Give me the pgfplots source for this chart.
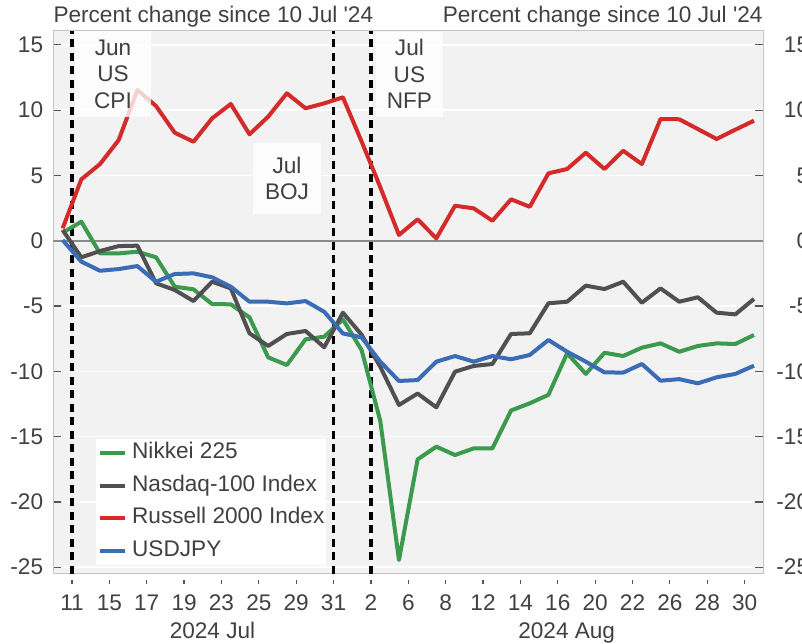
\documentclass[border=0pt]{standalone}
\usepackage{fontspec}
\setmainfont{Liberation Sans}
\usepackage{pgfplots}
\usepackage{pgfplotstable}
\pgfplotsset{compat=1.18}
\definecolor{cgreen}{HTML}{3B9A4E}
\definecolor{cgray}{HTML}{505050}
\definecolor{cred}{HTML}{D42A2A}
\definecolor{cblue}{HTML}{3A6DB5}
\definecolor{bgc}{HTML}{F2F2F2}
\definecolor{axc}{HTML}{C4C4C4}
\definecolor{zeroc}{HTML}{8A8A8A}
\definecolor{txtc}{HTML}{404040}
\definecolor{tickc}{HTML}{555555}

\pgfplotstableread{
x nikkei nasdaq russell usdjpy
0.5 0.61 0.82 0.95 0.05
1.5 1.46 -1.27 4.70 -1.60
2.5 -0.97 -0.79 5.87 -2.30
3.5 -0.97 -0.41 7.71 -2.17
4.5 -0.84 -0.38 11.54 -1.94
5.5 -1.27 -3.26 10.31 -3.14
6.5 -3.52 -3.77 8.27 -2.55
7.5 -3.72 -4.62 7.58 -2.50
8.5 -4.85 -3.14 9.37 -2.80
9.5 -4.87 -3.65 10.47 -3.52
10.5 -5.87 -7.09 8.15 -4.67
11.5 -8.93 -8.06 9.50 -4.67
12.5 -9.52 -7.14 11.29 -4.80
13.5 -7.55 -6.91 10.14 -4.62
14.5 -7.35 -8.16 10.52 -5.44
15.5 -6.02 -5.51 10.98 -7.10
16.5 -8.37 -7.20 7.60 -7.40
17.5 -13.80 -9.65 4.10 -9.26
18.5 -24.45 -12.58 0.44 -10.74
19.5 -16.74 -11.70 1.64 -10.67
20.5 -15.77 -12.76 0.18 -9.26
21.5 -16.41 -10.03 2.68 -8.83
22.5 -15.90 -9.59 2.48 -9.26
23.5 -15.90 -9.44 1.53 -8.83
24.5 -13.00 -7.14 3.17 -9.08
25.5 -12.45 -7.09 2.60 -8.75
26.5 -11.80 -4.79 5.16 -7.60
27.5 -8.62 -4.67 5.49 -8.50
28.5 -10.20 -3.44 6.74 -9.26
29.5 -8.58 -3.70 5.49 -10.08
30.5 -8.83 -3.14 6.89 -10.10
31.5 -8.19 -4.75 5.87 -9.44
32.5 -7.86 -3.65 9.32 -10.72
33.5 -8.50 -4.67 9.30 -10.60
34.5 -8.06 -4.33 8.55 -10.92
35.5 -7.86 -5.51 7.79 -10.46
36.5 -7.91 -5.64 8.50 -10.20
37.5 -7.22 -4.46 9.19 -9.57
}\data

\begin{document}
\begin{tikzpicture}[font=\fontsize{22.6}{26.5}\selectfont]
\pgfplotsset{
  common/.style={
    at={(53.3pt,70pt)}, anchor=south west,
    scale only axis, width=710pt, height=543pt,
    xmin=0, xmax=38, ymin=-25.52, ymax=16.06,
    ytick={-25,-20,...,15},
    yticklabels={-25,-20,-15,-10,-5,0,5,10,15},
    xtick={1,3,...,37},
  }
}
% second axis: outward x ticks and right labels
\begin{axis}[common,
  axis line style={draw=none},
  xticklabel=\empty,
  xtick pos=bottom,
  tick align=outside,
  major tick length=4pt,
  xtick style={draw=tickc, line width=1.2pt, yshift=-6pt},
  ytick style={draw=none},
  yticklabel pos=right,
  yticklabel style={anchor=east, inner sep=0pt, xshift=42pt, text=txtc},
]
\end{axis}
\begin{axis}[common,
  axis background/.style={fill=bgc},
  axis line style={draw=axc, line width=1pt},
  xticklabels={11,15,17,19,23,25,29,31,2,6,8,12,14,16,20,22,26,28,30},
  xtick style={draw=none},
  xticklabel style={inner sep=0pt, yshift=-21pt, text=txtc},
  ytick pos=both,
  yticklabel pos=left,
  tick align=inside,
  major tick length=8pt,
  ytick style={draw=tickc, line width=1.2pt},
  yticklabel style={inner sep=0pt, xshift=-10pt, text=txtc},
  ymajorgrids,
  grid style={white, line width=1.6pt},
  legend style={at={(rel axis cs:0.0601,0.2481)}, anchor=north west,
    draw=none, fill=white, inner xsep=2pt, inner ysep=3pt,
    row sep=11.7pt, text=txtc,
    nodes={inner sep=0pt, text height=16pt, text depth=5pt},
    /tikz/every odd column/.append style={column sep=5pt}},
  legend cell align=left,
  legend image code/.code={\draw[#1, line width=4pt] (0pt,0pt) -- (25pt,0pt);},
]
\addplot[white, line width=2pt, forget plot] coordinates {(17,-25.52) (17,16.06)};
\addplot[zeroc, line width=2pt, forget plot] coordinates {(0,0) (38,0)};
\addplot[black, line width=3.2pt, dash pattern=on 8pt off 5.5pt, forget plot] coordinates {(1,-25.52) (1,16.06)};
\addplot[black, line width=3.2pt, dash pattern=on 8pt off 5.5pt, forget plot] coordinates {(15,-25.52) (15,16.06)};
\addplot[black, line width=3.2pt, dash pattern=on 8pt off 5.5pt, forget plot] coordinates {(17,-25.52) (17,16.06)};

\addplot[cgreen, line width=4pt, line join=round] table[x=x, y=nikkei] {\data};
\addlegendentry{Nikkei 225}
\addplot[cgray, line width=4pt, line join=round] table[x=x, y=nasdaq] {\data};
\addlegendentry{Nasdaq-100 Index}
\addplot[cred, line width=4pt, line join=round] table[x=x, y=russell] {\data};
\addlegendentry{Russell 2000 Index}
\addplot[cblue, line width=4pt, line join=round] table[x=x, y=usdjpy] {\data};
\addlegendentry{USDJPY}

\node[fill=white, fill opacity=0.78, text opacity=1, text=txtc, align=center,
  minimum width=76pt, minimum height=86pt, inner sep=0pt] at (axis cs:3.195,12.76) {Jun\\US\\CPI};
\node[fill=white, fill opacity=0.78, text opacity=1, text=txtc, align=center,
  minimum width=68pt, minimum height=71pt, inner sep=0pt] at (axis cs:12.51,4.76) {Jul\\BOJ};
\node[fill=white, fill opacity=0.78, text opacity=1, text=txtc, align=center,
  minimum width=67pt, minimum height=85pt, inner sep=0pt] at (axis cs:19.06,12.76) {Jul\\US\\NFP};
\end{axis}
\node[anchor=base, text=txtc, inner sep=0pt] at (212.5pt,5pt) {2024 Jul};
\node[anchor=base, text=txtc, inner sep=0pt] at (566.7pt,5pt) {2024 Aug};
\node[anchor=base west, text=txtc, inner sep=0pt] at (53.3pt,621.3pt) {Percent change since 10 Jul \textquotesingle 24};
\node[anchor=base east, text=txtc, inner sep=0pt] at (762.7pt,621.3pt) {Percent change since 10 Jul \textquotesingle 24};
\pgfresetboundingbox
\path[use as bounding box] (0,0) rectangle (802pt,644pt);
\end{tikzpicture}
\end{document}
